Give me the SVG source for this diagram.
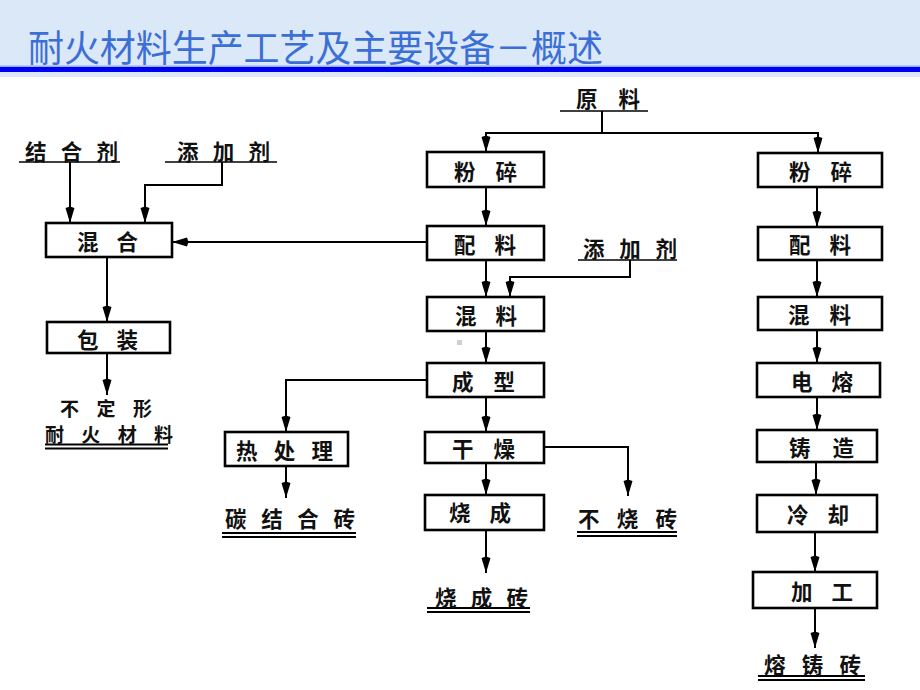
<svg xmlns="http://www.w3.org/2000/svg" width="920" height="690" viewBox="0 0 920 690">
<defs>
<marker id="ah" viewBox="-17 -6 18 12" refX="0" refY="0" markerWidth="18" markerHeight="12" orient="auto" markerUnits="userSpaceOnUse">
<path d="M0,0 L-15,-4.5 L-16.5,0 L-15,4.5 Z" fill="#000"/>
</marker>
<style>
.box{fill:#fff;stroke:#000;stroke-width:2.6}
.t{font-family:"Noto Sans CJK SC","Noto Sans CJK TC",sans-serif;font-size:21.5px;font-weight:bold;fill:#111;dominant-baseline:central}
.s{font-size:19px}
.c{fill:none;stroke:#000;stroke-width:2}
.ca{fill:none;stroke:#000;stroke-width:2;marker-end:url(#ah)}
.ul{stroke:#000;stroke-width:1.6}
.dl{stroke:#000;stroke-width:2}
</style>
</defs>
<rect x="0" y="0" width="920" height="690" fill="#fff"/>
<rect x="0" y="0" width="920" height="77" fill="#dbe8f7"/>
<rect x="0" y="65.5" width="920" height="1.5" fill="#8fb0f0"/>
<rect x="0" y="67" width="920" height="5" fill="#0000f0"/>
<text x="28" y="62" font-family="'Noto Sans CJK SC',sans-serif" font-size="37" fill="#3b6fd6" textLength="575" lengthAdjust="spacingAndGlyphs">耐火材料生产工艺及主要设备－概述</text>

<g id="connectors">
<line class="ul" x1="19" y1="162" x2="120" y2="162"/>
<line class="ul" x1="165" y1="162" x2="277" y2="162"/>
<path class="ca" d="M70,162 V223"/>
<path class="ca" d="M222,162 V185 H145 V223"/>
<path class="ca" d="M107,257 V322"/>
<path class="ca" d="M107,353 V395"/>
<line class="dl" x1="45" y1="444.5" x2="168" y2="444.5"/>
<line class="dl" x1="45" y1="448.5" x2="168" y2="448.5"/>
<path class="ca" d="M427,242 H172"/>
<line class="ul" x1="560" y1="111" x2="648" y2="111"/>
<path class="c" d="M602,111 V133"/>
<path class="ca" d="M602,133 H486 V152"/>
<path class="ca" d="M602,133 H818 V153"/>
<path class="ca" d="M486,187 V226"/>
<line class="ul" x1="578" y1="260" x2="677" y2="260"/>
<path class="ca" d="M630,260 V277 H510 V297"/>
<path class="ca" d="M486,260 V297"/>
<path class="ca" d="M486,331 V363"/>
<path class="ca" d="M427,380 H286 V432"/>
<path class="ca" d="M486,397 V432"/>
<path class="ca" d="M544,447 H628 V496"/>
<path class="ca" d="M486,463 V495"/>
<path class="ca" d="M486,530 V573"/>
<path class="ca" d="M286,466 V498"/>
<line class="dl" x1="222" y1="533" x2="356" y2="533"/>
<line class="dl" x1="222" y1="537" x2="356" y2="537"/>
<line class="dl" x1="577" y1="532" x2="677" y2="532"/>
<line class="dl" x1="577" y1="536" x2="677" y2="536"/>
<line class="dl" x1="427" y1="608" x2="530" y2="608"/>
<line class="dl" x1="427" y1="612" x2="530" y2="612"/>
<path class="ca" d="M817,187 V227"/>
<path class="ca" d="M817,260 V297"/>
<path class="ca" d="M817,330 V363"/>
<path class="ca" d="M817,397 V430"/>
<path class="ca" d="M816,462 V495"/>
<path class="ca" d="M815,532 V572"/>
<path class="ca" d="M815,608 V648"/>
<line class="dl" x1="758" y1="676" x2="865" y2="676"/>
<line class="dl" x1="758" y1="680" x2="865" y2="680"/>
</g>

<rect x="457" y="340" width="5" height="5" fill="#cfcfcf"/>

<g id="src-jiehe"><text class="t" x="25" y="150" textLength="93" lengthAdjust="spacing">结合剂</text></g>
<g id="src-tianjia1"><text class="t" x="177" y="150" textLength="93" lengthAdjust="spacing">添加剂</text></g>
<g id="n-hunhe"><rect class="box" x="46" y="223" width="126" height="34"/><text class="t" x="77" y="240" textLength="61" lengthAdjust="spacing">混合</text></g>
<g id="n-baozhuang"><rect class="box" x="47" y="322" width="123" height="31"/><text class="t" x="77" y="338" textLength="61" lengthAdjust="spacing">包装</text></g>
<g id="out-budingxing"><text class="t s" x="60" y="407.5" textLength="92" lengthAdjust="spacing">不定形</text><text class="t s" x="45" y="433" textLength="128" lengthAdjust="spacing">耐火材料</text></g>

<g id="src-yuanliao"><text class="t" x="576" y="97" textLength="64" lengthAdjust="spacing">原料</text></g>
<g id="n-fensui1"><rect class="box" x="427" y="152" width="117" height="35"/><text class="t" x="454" y="170" textLength="63" lengthAdjust="spacing">粉碎</text></g>
<g id="n-peiliao1"><rect class="box" x="427" y="226" width="117" height="34"/><text class="t" x="454" y="243" textLength="62" lengthAdjust="spacing">配料</text></g>
<g id="src-tianjia2"><text class="t" x="583" y="247" textLength="94" lengthAdjust="spacing">添加剂</text></g>
<g id="n-hunliao1"><rect class="box" x="427" y="297" width="117" height="34"/><text class="t" x="455" y="314" textLength="62" lengthAdjust="spacing">混料</text></g>
<g id="n-chengxing"><rect class="box" x="427" y="363" width="117" height="34"/><text class="t" x="452" y="380" textLength="63" lengthAdjust="spacing">成型</text></g>
<g id="n-ganzao"><rect class="box" x="425" y="432" width="119" height="31"/><text class="t" x="452" y="447" textLength="63" lengthAdjust="spacing">干燥</text></g>
<g id="n-shaocheng"><rect class="box" x="425" y="495" width="119" height="35"/><text class="t" x="449" y="511" textLength="62" lengthAdjust="spacing">烧成</text></g>
<g id="n-rechuli"><rect class="box" x="225" y="432" width="123" height="34"/><text class="t" x="236" y="449" textLength="97" lengthAdjust="spacing">热处理</text></g>
<g id="out-tanjiehe"><text class="t" x="225" y="517" textLength="130" lengthAdjust="spacing">碳结合砖</text></g>
<g id="out-bushao"><text class="t" x="578" y="517" textLength="99" lengthAdjust="spacing">不烧砖</text></g>
<g id="out-shaocheng"><text class="t" x="435" y="596" textLength="93" lengthAdjust="spacing">烧成砖</text></g>

<g id="n-fensui2"><rect class="box" x="758" y="153" width="124" height="34"/><text class="t" x="789" y="170" textLength="63" lengthAdjust="spacing">粉碎</text></g>
<g id="n-peiliao2"><rect class="box" x="758" y="227" width="124" height="33"/><text class="t" x="789" y="243" textLength="62" lengthAdjust="spacing">配料</text></g>
<g id="n-hunliao2"><rect class="box" x="758" y="297" width="124" height="33"/><text class="t" x="788" y="313" textLength="63" lengthAdjust="spacing">混料</text></g>
<g id="n-dianrong"><rect class="box" x="757" y="363" width="123" height="34"/><text class="t" x="791" y="380" textLength="62" lengthAdjust="spacing">电熔</text></g>
<g id="n-zhuzao"><rect class="box" x="757" y="430" width="120" height="32"/><text class="t" x="789" y="446" textLength="65" lengthAdjust="spacing">铸造</text></g>
<g id="n-lengque"><rect class="box" x="757" y="495" width="120" height="37"/><text class="t" x="787" y="513" textLength="62" lengthAdjust="spacing">冷却</text></g>
<g id="n-jiagong"><rect class="box" x="753" y="572" width="124" height="36"/><text class="t" x="791" y="590" textLength="62" lengthAdjust="spacing">加工</text></g>
<g id="out-rongzhu"><text class="t" x="764" y="663" textLength="97" lengthAdjust="spacing">熔铸砖</text></g>
</svg>
